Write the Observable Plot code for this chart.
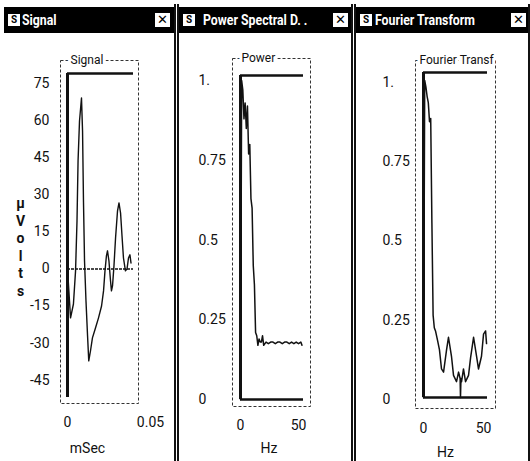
<!DOCTYPE html>
<html><head><meta charset="utf-8">
<script src="https://cdn.jsdelivr.net/npm/d3@7"></script>
<script src="https://cdn.jsdelivr.net/npm/@observablehq/plot@0.6"></script>
<style>
body{margin:0;background:#fff;}
#page{position:relative;width:530px;height:461px;overflow:hidden;background:#fff;font-family:Roboto,"Liberation Sans",sans-serif;}
.bar{position:absolute;top:7px;height:26px;background:#000;color:#fff;font-weight:bold;font-size:15px;line-height:26px;white-space:nowrap;}
.bar .t{position:absolute;top:0;transform:scaleX(0.82);transform-origin:left center;}
.icon{position:absolute;top:7px;width:12px;height:12px;background:#fff;color:#000;font-size:10px;line-height:12px;text-align:center;font-weight:bold;}
.close{position:absolute;top:6px;width:15px;height:14px;background:#fff;color:#000;font-size:13px;line-height:14px;text-align:center;font-weight:bold;font-family:"DejaVu Sans",sans-serif;}
.sep{position:absolute;top:4px;bottom:0;width:2px;background:#111;}
.chart{position:absolute;top:36px;}
</style>
</head><body>
<div id="page">
  <div class="chart" id="c1" style="left:0px"></div>
  <div class="chart" id="c2" style="left:178px"></div>
  <div class="chart" id="c3" style="left:355px"></div>
  <div class="bar" style="left:4px;width:171px"><span class="icon" style="left:4px">S</span><span class="t" style="left:18px">Signal</span><span class="close" style="left:151px">✕</span></div>
  <div class="bar" style="left:179px;width:172px"><span class="icon" style="left:4px">S</span><span class="t" style="left:24px">Power Spectral D. .</span><span class="close" style="left:154px">✕</span></div>
  <div class="bar" style="left:356px;width:174px"><span class="icon" style="left:4px">S</span><span class="t" style="left:19px">Fourier Transform</span><span class="close" style="left:155px">✕</span></div>
  <div class="sep" style="left:174px"></div>
  <div class="sep" style="left:177px"></div>
  <div class="sep" style="left:351px"></div>
  <div class="sep" style="left:354px"></div>
  <div class="sep" style="left:528px"></div>
</div>
<script>
// ---------- data ----------
const sigTime = [0, 0.0023, 0.0045, 0.0061, 0.0072, 0.0080, 0.0091, 0.0106, 0.0114, 0.0121, 0.0129, 0.0140, 0.0152, 0.0161, 0.0174, 0.0189, 0.0212, 0.0235, 0.0258, 0.0273, 0.0284, 0.0295, 0.0303, 0.0314, 0.0326, 0.0333, 0.0341, 0.0352, 0.0364, 0.0379, 0.0390, 0.0402, 0.0413, 0.0424, 0.0439, 0.0451, 0.0462, 0.0473, 0.0481];
const sigVolts = [0, -19.8, -14.2, -0.8, 19.4, 43.7, 59.8, 69.1, 55.8, 27.5, 3.2, -12.9, -27.1, -37.2, -33.2, -27.9, -23.9, -19.8, -15, -8.9, -0.8, 5.3, 7.3, 3.2, -4.9, -8.9, -6.9, 1.2, 12.5, 23.5, 26.7, 22.6, 13.3, 4.4, -0.8, 0, 4.4, 5.7, 2.4];
const sigYTicks = [75, 60, 45, 30, 15, 0, -15, -30, -45];
const sigXTicks = [0, 0.05];
const sigDomainX = [0, 0.05];
const sigDomainY = [-52, 79];

const powFreq = [0, 1, 2, 3, 4, 5, 6, 7, 8, 9, 10, 11, 12, 13, 14, 15, 16, 17, 18, 19, 20, 22, 24, 26, 28, 30, 32, 34, 36, 38, 40, 42, 44, 46, 48, 50, 52, 53];
const powValue = [0, 1.0, 0.97, 0.88, 0.93, 0.85, 0.92, 0.77, 0.8, 0.63, 0.6, 0.42, 0.36, 0.21, 0.2, 0.17, 0.19, 0.18, 0.18, 0.2, 0.17, 0.18, 0.175, 0.18, 0.18, 0.175, 0.18, 0.18, 0.175, 0.18, 0.18, 0.175, 0.18, 0.175, 0.18, 0.175, 0.18, 0.17];
const powYTicks = [1, 0.75, 0.5, 0.25, 0];
const powXTicks = [0, 50];
const powDomainX = [0, 54.3];
const powDomainY = [0, 1.016];

const ftFreq = [0, 1, 2, 3, 4, 5, 6, 7, 8, 9, 10, 11.7, 13.3, 15, 16.7, 19.2, 20.8, 23.3, 25, 27.5, 29.2, 30.5, 30.8, 31.2, 31.7, 33.3, 35, 37.5, 39.2, 41.7, 44.2, 45.8, 48.3, 50, 51.7, 52.5];
const ftValue = [0, 1.0, 0.98, 0.95, 0.93, 0.87, 0.88, 0.55, 0.26, 0.22, 0.21, 0.18, 0.15, 0.09, 0.08, 0.15, 0.19, 0.13, 0.07, 0.05, 0.08, 0.06, 0.0, 0.06, 0.05, 0.09, 0.05, 0.07, 0.125, 0.19, 0.13, 0.09, 0.13, 0.2, 0.21, 0.17];
const ftYTicks = [1, 0.75, 0.5, 0.25, 0];
const ftXTicks = [0, 50];
const ftDomainX = [0, 53.3];
const ftDomainY = [0, 1.025];

// ---------- helpers ----------
const FONT = 'Roboto,"Liberation Sans",sans-serif';
const INK = "#111";
const style = {fontFamily: FONT, fontSize: "14px", background: "transparent", color: INK, overflow: "visible"};
const fmt = d => d === 1 ? "1." : String(d);
const groupTitle = (txt, dx, dy) => Plot.text([txt], {frameAnchor: "top-left", textAnchor: "start", lineAnchor: "middle", dx, dy, fontSize: 12, fill: INK, stroke: "white", strokeWidth: 6, paintOrder: "stroke"});

const signal = sigTime.map((t, i) => ({t, v: sigVolts[i]}));
const power = powFreq.map((f, i) => ({f, v: powValue[i]}));
const fourier = ftFreq.map((f, i) => ({f, v: ftValue[i]}));

// ---------- chart 1: Signal ----------
document.getElementById("c1").append(Plot.plot({
  width: 174, height: 425, marginLeft: 67, marginRight: 41, marginTop: 37, marginBottom: 64,
  style,
  x: {domain: sigDomainX, label: null},
  y: {domain: sigDomainY, label: null},
  marks: [
    Plot.frame({insetLeft: -7, insetRight: -5, insetTop: -13, insetBottom: -6, stroke: "#333", strokeDasharray: "3,2"}),
    Plot.ruleY([sigDomainY[1]], {stroke: INK, strokeWidth: 2.5}),
    Plot.ruleX([sigDomainX[0]], {stroke: INK, strokeWidth: 3}),
    Plot.ruleY([0], {stroke: INK, strokeWidth: 1.5, strokeDasharray: "3,1"}),
    Plot.line(signal, {x: "t", y: "v", stroke: INK, strokeWidth: 1.4}),
    Plot.axisY(sigYTicks, {tickSize: 0, tickPadding: 18, tickFormat: d => String(d)}),
    Plot.axisX([sigXTicks[0]], {tickSize: 0, tickPadding: 20, tickFormat: d => String(d)}),
    Plot.axisX([sigXTicks[1]], {tickSize: 0, tickPadding: 20, dx: 17, tickFormat: d => String(d)}),
    groupTitle("Signal", 3, -13),
    Plot.text(["µ\nV\no\nl\nt\ns"], {frameAnchor: "left", textAnchor: "middle", dx: -47, dy: 11, lineHeight: 1.25, fontWeight: "bold", fontSize: 14, fill: INK}),
    Plot.text(["mSec"], {frameAnchor: "bottom-left", textAnchor: "middle", lineAnchor: "middle", dx: 20, dy: 51, fill: INK})
  ]
}));

// ---------- chart 2: Power ----------
document.getElementById("c2").append(Plot.plot({
  width: 174, height: 425, marginLeft: 62, marginRight: 49, marginTop: 39, marginBottom: 62,
  style,
  x: {domain: powDomainX, label: null},
  y: {domain: powDomainY, label: null},
  marks: [
    Plot.frame({insetLeft: -8, insetRight: -7, insetTop: -17, insetBottom: -7, stroke: "#333", strokeDasharray: "3,2"}),
    Plot.ruleY([powDomainY[1]], {stroke: INK, strokeWidth: 2.5}),
    Plot.ruleX([powDomainX[0]], {stroke: INK, strokeWidth: 3}),
    Plot.ruleY([0], {stroke: INK, strokeWidth: 2.5}),
    Plot.line(power, {x: "f", y: "v", stroke: INK, strokeWidth: 1.5}),
    Plot.axisY(powYTicks, {tickSize: 0, tickPadding: 42, textAnchor: "start", tickFormat: fmt}),
    Plot.axisX(powXTicks, {tickSize: 0, tickPadding: 21, tickFormat: d => String(d)}),
    groupTitle("Power", 1, -17),
    Plot.text(["Hz"], {frameAnchor: "bottom", textAnchor: "middle", lineAnchor: "middle", dx: -3, dy: 49, fill: INK})
  ]
}));

// ---------- chart 3: Fourier Transform ----------
document.getElementById("c3").append(Plot.plot({
  width: 175, height: 425, marginLeft: 68, marginRight: 43, marginTop: 36, marginBottom: 64,
  style,
  x: {domain: ftDomainX, label: null},
  y: {domain: ftDomainY, label: null},
  marks: [
    Plot.frame({insetLeft: -8, insetRight: -8, insetTop: -12, insetBottom: -11, stroke: "#333", strokeDasharray: "3,2"}),
    Plot.ruleY([ftDomainY[1]], {stroke: INK, strokeWidth: 2.5}),
    Plot.ruleX([ftDomainX[0]], {stroke: INK, strokeWidth: 3}),
    Plot.ruleY([0], {stroke: INK, strokeWidth: 2.5}),
    Plot.line(fourier, {x: "f", y: "v", stroke: INK, strokeWidth: 1.5}),
    Plot.axisY(ftYTicks, {tickSize: 0, tickPadding: 41, textAnchor: "start", dy: 2, tickFormat: fmt}),
    Plot.axisX(ftXTicks, {tickSize: 0, tickPadding: 26, tickFormat: d => String(d)}),
    groupTitle("Fourier Transf", -4, -12),
    Plot.text(["Hz"], {frameAnchor: "bottom", textAnchor: "middle", lineAnchor: "middle", dx: -10, dy: 55, fill: INK})
  ]
}));
</script>
</body></html>
